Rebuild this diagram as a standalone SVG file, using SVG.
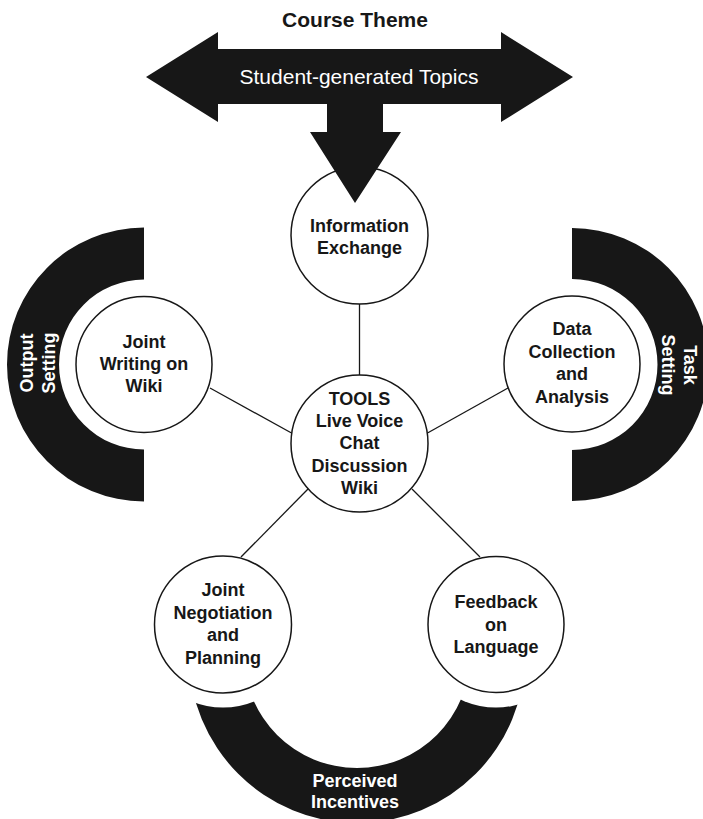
<svg xmlns="http://www.w3.org/2000/svg" width="703" height="819" viewBox="0 0 703 819">
  <style>
    .band { fill: #171717; }
    .band-label { fill: #ffffff; font-family: "Liberation Sans", Arial, Helvetica, sans-serif; font-weight: bold; font-size: 18px; text-anchor: middle; }
    .halo { fill: #ffffff; }
    .node { fill: #ffffff; stroke: #171717; stroke-width: 1.5; }
    .label { fill: #171717; font-family: "Liberation Sans", Arial, Helvetica, sans-serif; font-weight: bold; font-size: 18px; text-anchor: middle; }
    .link { stroke: #171717; stroke-width: 1.3; fill: none; }
    .title { fill: #171717; font-family: "Liberation Sans", Arial, Helvetica, sans-serif; font-weight: bold; font-size: 21px; text-anchor: middle; }
    .arrow-text { fill: #ffffff; font-family: "Liberation Sans", Arial, Helvetica, sans-serif; font-size: 21px; text-anchor: middle; }
  </style>
  <rect width="703" height="819" fill="#ffffff"/>

  <!-- Setting bands (half rings around the outer nodes) -->
  <g id="output-setting">
    <path class="band" d="M144,227.5 A137,137 0 0 0 144,501.5 L144,449.5 A85,85 0 0 1 144,279.5 Z"/>
    <g transform="translate(0,363) rotate(-90)">
      <text class="band-label" x="0" y="33">Output</text>
      <text class="band-label" x="0" y="55">Setting</text>
    </g>
  </g>
  <g id="task-setting">
    <path class="band" d="M572,228 A136.5,136.5 0 0 1 572,501 L572,450 A85.5,85.5 0 0 0 572,279 Z"/>
    <g transform="translate(0,365) rotate(90)">
      <text class="band-label" x="0" y="-684">Task</text>
      <text class="band-label" x="0" y="-662">Setting</text>
    </g>
  </g>
  <g id="perceived-incentives">
    <path class="band" d="M189,655 A168,168 0 0 0 525,655 L470,655 A113,113 0 0 1 244,655 Z"/>
    <text class="band-label" x="355" y="787">Perceived</text>
    <text class="band-label" x="355" y="808">Incentives</text>
  </g>

  <!-- White gaps cutting the ends of the lower band around its nodes -->
  <g id="band-gaps">
    <circle class="halo" cx="223" cy="624.5" r="83"/>
    <circle class="halo" cx="496" cy="624.5" r="83"/>
  </g>

  <!-- Connectors from the TOOLS hub -->
  <g id="connectors">
    <line class="link" x1="359.5" y1="304" x2="359.5" y2="375"/>
    <line class="link" x1="210" y1="388" x2="291.5" y2="433"/>
    <line class="link" x1="427.5" y1="433" x2="508" y2="388"/>
    <line class="link" x1="308" y1="489" x2="241" y2="557"/>
    <line class="link" x1="412" y1="489" x2="480" y2="557"/>
  </g>

  <!-- Nodes -->
  <g id="information-exchange">
    <circle class="node" cx="359.5" cy="235.5" r="68.5"/>
    <text class="label" x="359.5" y="232">Information</text>
    <text class="label" x="359.5" y="254">Exchange</text>
  </g>
  <g id="joint-writing">
    <circle class="node" cx="144" cy="364.5" r="68"/>
    <text class="label" x="144" y="348">Joint</text>
    <text class="label" x="144" y="370">Writing on</text>
    <text class="label" x="144" y="392">Wiki</text>
  </g>
  <g id="data-collection">
    <circle class="node" cx="572" cy="364" r="68"/>
    <text class="label" x="572" y="335">Data</text>
    <text class="label" x="572" y="357.5">Collection</text>
    <text class="label" x="572" y="380">and</text>
    <text class="label" x="572" y="402.5">Analysis</text>
  </g>
  <g id="tools">
    <circle class="node" cx="359.5" cy="443.5" r="68.5"/>
    <text class="label" x="359.5" y="405">TOOLS</text>
    <text class="label" x="359.5" y="427">Live Voice</text>
    <text class="label" x="359.5" y="449">Chat</text>
    <text class="label" x="359.5" y="471.5">Discussion</text>
    <text class="label" x="359.5" y="494">Wiki</text>
  </g>
  <g id="joint-negotiation">
    <circle class="node" cx="223" cy="624.5" r="68.5"/>
    <text class="label" x="223" y="596">Joint</text>
    <text class="label" x="223" y="618.5">Negotiation</text>
    <text class="label" x="223" y="641">and</text>
    <text class="label" x="223" y="663.5">Planning</text>
  </g>
  <g id="feedback-on-language">
    <circle class="node" cx="496" cy="624.5" r="68"/>
    <text class="label" x="496" y="608">Feedback</text>
    <text class="label" x="496" y="630.5">on</text>
    <text class="label" x="496" y="652.5">Language</text>
  </g>

  <!-- Course theme arrow -->
  <g id="course-theme">
    <text class="title" x="355" y="27">Course Theme</text>
    <polygon class="band" points="146,77 218,32 218,49 501,49 501,32 573,77 501,122 501,104 383,104 383,132 401,132 355,203 310,132 327,132 327,104 218,104 218,122"/>
    <text class="arrow-text" x="359" y="84">Student-generated Topics</text>
  </g>
</svg>
